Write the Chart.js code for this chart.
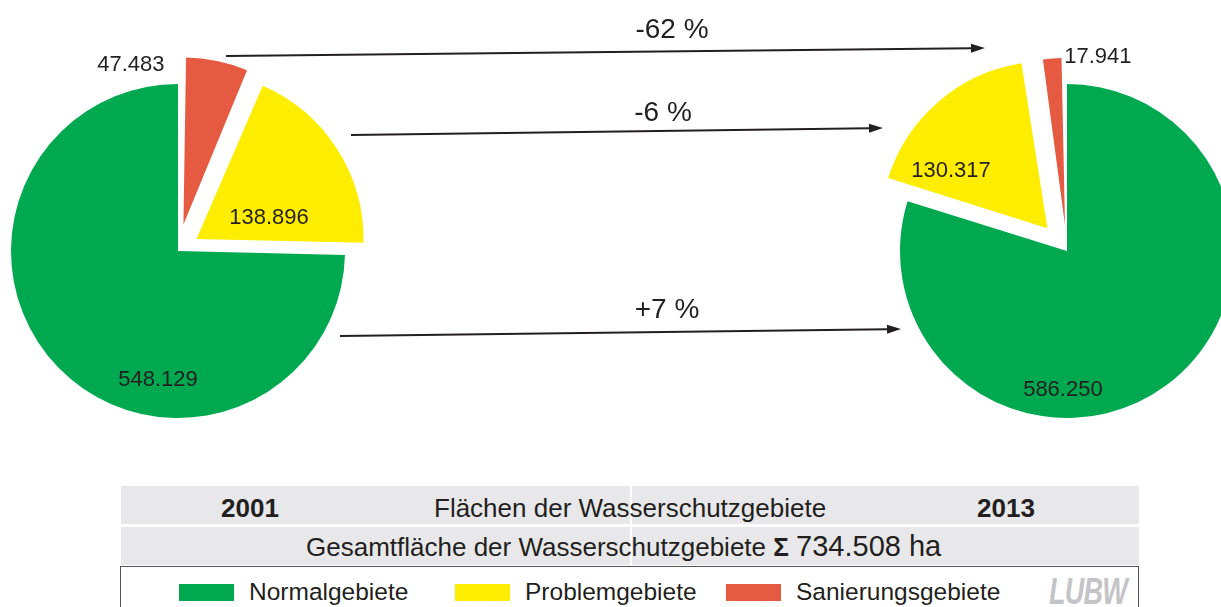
<!DOCTYPE html>
<html>
<head>
<meta charset="utf-8">
<script src="https://cdn.jsdelivr.net/npm/chart.js@4"></script>
<style>
body { margin: 0; width: 1221px; height: 607px; overflow: hidden; background: #fff; position: relative;
       font-family: "Liberation Sans", Arial, sans-serif; color: #231f20; }
canvas { position: absolute; left: 0; top: 0; }
.row { position: absolute; left: 121px; width: 1018px; height: 38px; background: #e8e8ea; }
.row span { position: absolute; white-space: nowrap; line-height: 38px; font-size: 26px; }
.row span.big { position: static; font-size: 29px; }
.divider { position: absolute; left: 509px; top: 0; width: 2px; height: 38px; background: #fff; }
#legendBox { position: absolute; left: 120px; top: 566px; width: 1017px; height: 60px; border: 1px solid #555; background: #fff; }
.sw { position: absolute; top: 17px; width: 55px; height: 17px; }
.lt { position: absolute; top: 10px; font-size: 24.5px; line-height: 30px; white-space: nowrap; }
#logo { position: absolute; left: 928px; top: 4px; font-size: 36px; font-weight: bold; font-style: italic; color: #c4c4c8;
        transform: scaleX(0.75); transform-origin: left top; letter-spacing: -1px; }
</style>
</head>
<body>
<canvas id="pie2001" width="1221" height="470"></canvas>
<canvas id="pie2013" width="1221" height="470"></canvas>
<div class="row" id="row1"><div class="divider"></div></div>
<div class="row" id="row2" style="top:527px"><div class="divider"></div></div>
<div id="legendBox"><span id="logo">LUBW</span></div>

<script>
const categories = ['Normalgebiete', 'Problemgebiete', 'Sanierungsgebiete'];
const years = ['2001', '2013'];
const values2001 = [548129, 138896, 47483];
const values2013 = [586250, 130317, 17941];
const colors = ['#00a94f', '#ffed00', '#e55a40'];

// slice order clockwise from 12 o'clock (indexes into categories)
const order2001 = [2, 1, 0];
const order2013 = [0, 1, 2];
// how far each slice is pulled out (px), category order
const explode2001 = [0, 22, 27];
const explode2013 = [0, 30, 26];
// value label: angle (deg clockwise from top) and distance in radii, category order
const labelPos2001 = [[188.9, 0.776], [69.5, 0.582], [345.9, 1.158]];
const labelPos2013 = [[181.7, 0.827], [304.9, 0.847], [9.0, 1.182]];

const R = 167;
const W = 1221, H = 470;
const centers = [[178, 251], [1067, 251]];
// change arrows: x1, y1, x2, y2 and text anchor, category order
const arrows = [[340, 336, 901, 329], [351, 135, 883, 128], [226, 56, 985, 48]];
const arrowText = [[667, 318], [663, 121], [672, 38]];
const legendX = [179, 455, 726];

const ink = '#231f20';
const fmt = n => String(n).replace(/\B(?=(\d{3})+(?!\d))/g, '.');
const total = values2013.reduce((a, b) => a + b, 0);

// chart.js moves an arc by offset/4 and grows it a bit; keep radius at R
const keepRadius = {
    id: 'keepRadius',
    beforeDatasetsDraw(chart) {
        chart.getDatasetMeta(0).data.forEach(arc => {
            const t = (arc.options.offset || 0) / 4;
            const fix = 1 - Math.sin(Math.min(Math.PI, arc.circumference));
            arc.outerRadius = R - t * fix;
        });
    }
};

function valueLabels(order, values, labelPos) {
    return {
        id: 'valueLabels',
        afterDatasetsDraw(chart) {
            const ctx = chart.ctx;
            const arc0 = chart.getDatasetMeta(0).data[0];
            ctx.save();
            ctx.font = '22px "Liberation Sans", Arial, sans-serif';
            ctx.fillStyle = ink;
            ctx.textAlign = 'center';
            ctx.textBaseline = 'middle';
            order.forEach(i => {
                const [deg, f] = labelPos[i];
                const a = (deg - 90) * Math.PI / 180;
                ctx.fillText(fmt(values[i]), arc0.x + Math.cos(a) * R * f, arc0.y + Math.sin(a) * R * f + 1);
            });
            ctx.restore();
        }
    };
}

const changeArrows = {
    id: 'changeArrows',
    afterDraw(chart) {
        const ctx = chart.ctx;
        ctx.save();
        ctx.strokeStyle = ink;
        ctx.fillStyle = ink;
        ctx.lineWidth = 2;
        arrows.forEach(([x1, y1, x2, y2], i) => {
            const ang = Math.atan2(y2 - y1, x2 - x1);
            const hl = 14, hw = 4.5;
            const bx = x2 - Math.cos(ang) * hl, by = y2 - Math.sin(ang) * hl;
            ctx.beginPath();
            ctx.moveTo(x1, y1);
            ctx.lineTo(bx, by);
            ctx.stroke();
            ctx.beginPath();
            ctx.moveTo(x2, y2);
            ctx.lineTo(bx - Math.sin(ang) * hw, by + Math.cos(ang) * hw);
            ctx.lineTo(bx + Math.sin(ang) * hw, by - Math.cos(ang) * hw);
            ctx.closePath();
            ctx.fill();

            const pct = Math.round((values2013[i] - values2001[i]) / values2001[i] * 100);
            ctx.font = '28px "Liberation Sans", Arial, sans-serif';
            ctx.textAlign = 'center';
            ctx.textBaseline = 'alphabetic';
            ctx.fillText((pct > 0 ? '+' : '') + pct + ' %', arrowText[i][0], arrowText[i][1]);
        });
        ctx.restore();
    }
};

function makePie(id, values, order, explode, labelPos, center, extra) {
    return new Chart(document.getElementById(id), {
        type: 'pie',
        data: {
            labels: order.map(i => categories[i]),
            datasets: [{
                data: order.map(i => values[i]),
                backgroundColor: order.map(i => colors[i]),
                offset: order.map(i => explode[i] * 4),
                borderWidth: 0,
                hoverOffset: 0
            }]
        },
        options: {
            responsive: false,
            animation: false,
            events: [],
            radius: R,
            layout: { padding: { left: Math.max(0, 2 * center[0] - W), right: Math.max(0, W - 2 * center[0]),
                                 top: 2 * center[1] - H, bottom: 0 } },
            plugins: { legend: { display: false }, tooltip: { enabled: false } }
        },
        plugins: [keepRadius, valueLabels(order, values, labelPos)].concat(extra)
    });
}

makePie('pie2001', values2001, order2001, explode2001, labelPos2001, centers[0], [changeArrows]);
makePie('pie2013', values2013, order2013, explode2013, labelPos2013, centers[1], []);

// --- table below the pies ---
const row1 = document.getElementById('row1');
const row2 = document.getElementById('row2');
row1.style.top = '486px';

function addSpan(parent, html, style) {
    const s = document.createElement('span');
    s.innerHTML = html;
    Object.assign(s.style, style);
    parent.appendChild(s);
    return s;
}
addSpan(row1, years[0], { left: '79px', width: '100px', textAlign: 'center', fontWeight: 'bold', top: '3px' });
addSpan(row1, 'Flächen der Wasserschutzgebiete', { left: '313px', top: '3px' });
addSpan(row1, years[1], { left: '835px', width: '100px', textAlign: 'center', fontWeight: 'bold', top: '3px' });
addSpan(row2, 'Gesamtfläche der Wasserschutzgebiete <b>Σ</b> <span class="big">' + fmt(total) + ' ha</span>',
        { left: '185px', top: '0px' });

const box = document.getElementById('legendBox');
categories.forEach((c, i) => {
    const sw = document.createElement('div');
    sw.className = 'sw';
    sw.style.left = (legendX[i] - 121) + 'px';
    sw.style.background = colors[i];
    box.appendChild(sw);
    const t = document.createElement('span');
    t.className = 'lt';
    t.style.left = (legendX[i] - 121 + 70) + 'px';
    t.textContent = c;
    box.appendChild(t);
});
</script>
</body>
</html>
